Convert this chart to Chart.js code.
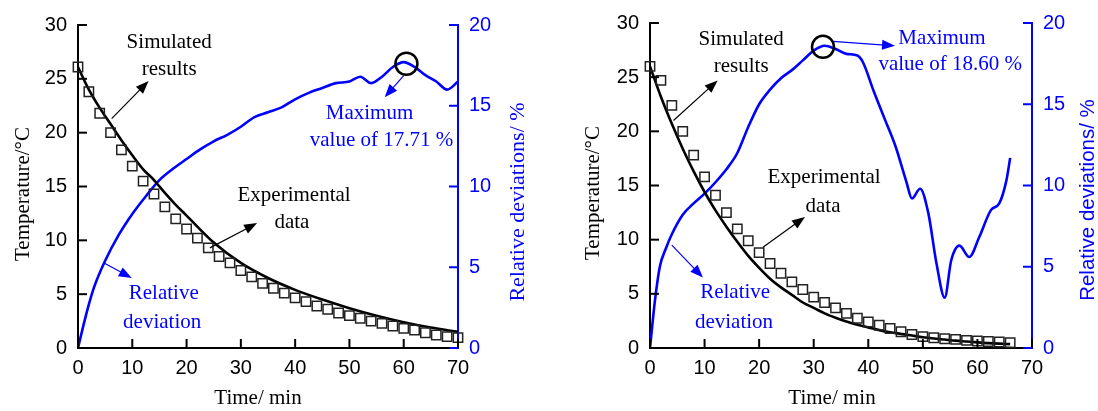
<!DOCTYPE html>
<html>
<head>
<meta charset="utf-8">
<script src="https://cdn.jsdelivr.net/npm/chart.js@4.4.1/dist/chart.umd.min.js"></script>
<style>
  html, body { margin: 0; padding: 0; background: #fff; }
  #wrap { position: relative; width: 1098px; height: 411px; }
  canvas { position: absolute; top: 0; }
</style>
</head>
<body>
<div id="wrap">
  <canvas id="chartA" width="549" height="411" style="left:0"></canvas>
  <canvas id="chartB" width="549" height="411" style="left:549px"></canvas>
</div>
<script>
// ---- left panel data ----
const expTimeA = [0,2,4,6,8,10,12,14,16,18,20,22,24,26,28,30,32,34,36,38,40,42,44,46,48,50,52,54,56,58,60,62,64,66,68,70];
const expTempA = [26.1,23.8,21.8,20.0,18.4,16.9,15.5,14.3,13.1,12.0,11.05,10.2,9.3,8.5,7.9,7.2,6.6,6.0,5.55,5.1,4.65,4.3,3.9,3.6,3.25,3.0,2.76,2.5,2.29,2.04,1.83,1.67,1.42,1.21,1.05,0.96];
const simTimeA = [0,2,4,6,8,10,12,14,16,18,20,25,30,35,40,45,50,55,60,65,70];
const simTempA = [26.1,24.0,22.3,20.8,19.3,17.9,16.6,15.6,14.4,13.3,12.3,9.8,7.9,6.5,5.4,4.5,3.7,3.0,2.4,1.9,1.5];
const devTimeA = [0,1,2,3,5,7.5,10,12.5,15,17.5,20,22.5,25,27.5,30,32.5,35,37.5,40,42.5,45,47.5,50,52,54,56,58,60,62,64,66,68,70];
const devValA = [0,1.4,2.7,3.8,5.4,7.0,8.3,9.4,10.4,11.1,11.7,12.3,12.8,13.2,13.7,14.3,14.6,14.9,15.4,15.8,16.1,16.4,16.5,16.8,16.4,16.8,17.4,17.7,17.4,16.9,16.5,16.0,16.5];

// ---- right panel data ----
const expTimeB = [0,2,4,6,8,10,12,14,16,18,20,22,24,26,28,30,32,34,36,38,40,42,44,46,48,50,52,54,56,58,60,62,64,66];
const expTempB = [26.0,24.7,22.4,20.0,17.8,15.8,14.1,12.5,11.0,9.9,8.8,7.8,6.9,6.1,5.4,4.7,4.2,3.7,3.2,2.75,2.4,2.1,1.8,1.5,1.25,1.05,0.95,0.85,0.8,0.7,0.65,0.6,0.55,0.5];
const simTimeB = [0,2,4,6,8,10,12,14,16,18,20,22,24,26,28,30,32,34,36,38,40,42,44,46,48,50,52,54,56,58,60,62,64,66];
const simTempB = [26,23.2,20.7,18.4,16.3,14.4,12.7,11.2,9.8,8.5,7.4,6.4,5.6,4.9,4.2,3.7,3.2,2.8,2.45,2.15,1.9,1.65,1.45,1.3,1.15,1.0,0.88,0.78,0.68,0.6,0.52,0.45,0.4,0.36];
const devTimeB = [0,0.9,1.8,3,4,6,8,10,12,14,16,18,20,22,24,26,28,30,32,34,36,38,39,41,43,45,47,48,49.5,51,52.5,54,55.2,56.7,58.5,60.3,62.5,64,65.3,66];
const devValB = [0,2.9,5.0,6.2,7.0,8.2,8.9,9.5,10.2,11.0,12.0,13.6,15.0,15.9,16.6,17.1,17.7,18.3,18.6,18.4,18.1,18.0,17.6,15.8,14.1,12.4,10.2,9.2,9.8,8.3,5.2,3.1,5.4,6.3,5.6,6.8,8.5,8.9,10.3,11.7];

const timeTicks = [0, 10, 20, 30, 40, 50, 60, 70];
const tempTicks = [0, 5, 10, 15, 20, 25, 30];
const devTicks = [0, 5, 10, 15, 20];

const BLUE = '#0000ff';
const SANS = '"Liberation Sans", Arial, sans-serif';
const SERIF = '"Liberation Serif", "Times New Roman", serif';

function pts(xs, ys) {
  return xs.map((x, i) => ({ x: x, y: ys[i] }));
}

// ticks pointing into the plot
const innerTicks = {
  id: 'innerTicks',
  afterDraw(chart) {
    const ctx = chart.ctx, a = chart.chartArea, len = 9;
    ctx.save();
    ctx.lineWidth = 2;
    const sx = chart.scales.x, sy = chart.scales.y, sy2 = chart.scales.y2;
    ctx.strokeStyle = '#000';
    sx.ticks.forEach(t => {
      const p = sx.getPixelForValue(t.value);
      ctx.beginPath(); ctx.moveTo(p, a.bottom); ctx.lineTo(p, a.bottom - len); ctx.stroke();
    });
    sy.ticks.forEach(t => {
      const p = sy.getPixelForValue(t.value);
      ctx.beginPath(); ctx.moveTo(a.left, p); ctx.lineTo(a.left + len, p); ctx.stroke();
    });
    ctx.strokeStyle = BLUE;
    sy2.ticks.forEach(t => {
      const p = sy2.getPixelForValue(t.value);
      ctx.beginPath(); ctx.moveTo(a.right, p); ctx.lineTo(a.right - len, p); ctx.stroke();
    });
    ctx.restore();
  }
};

// text labels, arrows, circle, axis titles
const notes = {
  id: 'notes',
  afterDraw(chart, args, opts) {
    const ctx = chart.ctx, sx = chart.scales.x, sy = chart.scales.y;
    const px = t => sx.getPixelForValue(t), py = v => sy.getPixelForValue(v);
    ctx.save();
    ctx.textAlign = 'center';
    ctx.textBaseline = 'middle';
    (opts.texts || []).forEach(n => {
      ctx.fillStyle = n.color;
      ctx.font = '21px ' + SERIF;
      ctx.fillText(n.text, px(n.t), py(n.v));
    });
    (opts.arrows || []).forEach(ar => {
      const x1 = px(ar.from[0]), y1 = py(ar.from[1]);
      const x2 = px(ar.to[0]), y2 = py(ar.to[1]);
      const ang = Math.atan2(y2 - y1, x2 - x1), hl = 13, hw = 5;
      ctx.strokeStyle = ar.color; ctx.fillStyle = ar.color; ctx.lineWidth = 1.2;
      ctx.beginPath();
      ctx.moveTo(x1, y1);
      ctx.lineTo(x2 - Math.cos(ang) * hl * 0.8, y2 - Math.sin(ang) * hl * 0.8);
      ctx.stroke();
      ctx.beginPath();
      ctx.moveTo(x2, y2);
      ctx.lineTo(x2 - Math.cos(ang) * hl + Math.sin(ang) * hw, y2 - Math.sin(ang) * hl - Math.cos(ang) * hw);
      ctx.lineTo(x2 - Math.cos(ang) * hl - Math.sin(ang) * hw, y2 - Math.sin(ang) * hl + Math.cos(ang) * hw);
      ctx.closePath();
      ctx.fill();
    });
    if (opts.circle) {
      ctx.strokeStyle = '#000'; ctx.lineWidth = 2.5;
      ctx.beginPath();
      ctx.arc(px(opts.circle.t), py(opts.circle.v), 11, 0, Math.PI * 2);
      ctx.stroke();
    }
    (opts.titles || []).forEach(tt => {
      ctx.save();
      ctx.translate(tt.x, tt.y);
      ctx.rotate(tt.rot || 0);
      ctx.fillStyle = tt.color;
      ctx.font = tt.font;
      ctx.fillText(tt.text, 0, 0);
      ctx.restore();
    });
    ctx.restore();
  }
};

function makeChart(id, d) {
  const ctx = document.getElementById(id).getContext('2d');
  return new Chart(ctx, {
    type: 'scatter',
    data: {
      datasets: [
        {
          label: 'Experimental data',
          data: pts(d.expT, d.expV),
          yAxisID: 'y',
          showLine: false,
          pointStyle: 'rect',
          pointRadius: 6.6,
          pointBorderWidth: 1.5,
          pointBorderColor: '#222',
          pointBackgroundColor: 'rgba(0,0,0,0)',
          clip: false
        },
        {
          label: 'Simulated results',
          data: pts(d.simT, d.simV),
          yAxisID: 'y',
          showLine: true,
          borderColor: '#000',
          borderWidth: 2.6,
          pointRadius: 0,
          cubicInterpolationMode: 'monotone'
        },
        {
          label: 'Relative deviation',
          data: pts(d.devT, d.devV),
          yAxisID: 'y2',
          showLine: true,
          borderColor: BLUE,
          borderWidth: 2.6,
          pointRadius: 0,
          cubicInterpolationMode: 'monotone'
        }
      ]
    },
    options: {
      responsive: false,
      animation: false,
      devicePixelRatio: 1,
      layout: { padding: { top: d.top, left: 0, right: 0, bottom: 0 } },
      plugins: {
        legend: { display: false },
        tooltip: { enabled: false },
        notes: d.notes
      },
      scales: {
        x: {
          type: 'linear', position: 'bottom', min: 0, max: 70,
          afterBuildTicks: s => { s.ticks = timeTicks.map(v => ({ value: v })); },
          afterFit: s => { s.height = 63; },
          grid: { display: false, drawTicks: false },
          border: { display: true, color: '#000', width: 2 },
          ticks: { color: '#000', padding: 8, font: { family: SANS, size: 20 } }
        },
        y: {
          type: 'linear', position: 'left', min: 0, max: 30,
          afterBuildTicks: s => { s.ticks = tempTicks.map(v => ({ value: v })); },
          afterFit: s => { s.width = d.lw; },
          grid: { display: false, drawTicks: false },
          border: { display: true, color: '#000', width: 2 },
          ticks: { color: '#000', padding: 11, font: { family: SANS, size: 20 } }
        },
        y2: {
          type: 'linear', position: 'right', min: 0, max: 20,
          afterBuildTicks: s => { s.ticks = devTicks.map(v => ({ value: v })); },
          afterFit: s => { s.width = d.rw; },
          grid: { display: false, drawTicks: false },
          border: { display: true, color: BLUE, width: 2 },
          ticks: { color: BLUE, padding: 11, font: { family: SANS, size: 20 } }
        }
      }
    },
    plugins: [innerTicks, notes]
  });
}

makeChart('chartA', {
  expT: expTimeA, expV: expTempA, simT: simTimeA, simV: simTempA, devT: devTimeA, devV: devValA,
  top: 25, lw: 78, rw: 91,
  notes: {
    texts: [
      { t: 16.8, v: 28.4, text: 'Simulated', color: '#000' },
      { t: 16.8, v: 25.9, text: 'results', color: '#000' },
      { t: 39.8, v: 14.2, text: 'Experimental', color: '#000' },
      { t: 39.4, v: 11.7, text: 'data', color: '#000' },
      { t: 15.8, v: 5.1, text: 'Relative', color: BLUE },
      { t: 15.5, v: 2.4, text: 'deviation', color: BLUE },
      { t: 53.7, v: 21.8, text: 'Maximum', color: BLUE },
      { t: 55.9, v: 19.3, text: 'value of 17.71 %', color: BLUE }
    ],
    arrows: [
      { from: [6.2, 21.3], to: [13.0, 24.8], color: '#000' },
      { from: [24.3, 9.3], to: [33.0, 11.6], color: '#000' },
      { from: [4.8, 7.9], to: [9.9, 6.5], color: BLUE },
      { from: [60.0, 25.3], to: [56.5, 23.3], color: BLUE }
    ],
    circle: { t: 60.5, v: 26.4 },
    titles: [
      { text: 'Temperature/°C', x: 23, y: 194, rot: -Math.PI / 2, color: '#000', font: '21px ' + SERIF },
      { text: 'Relative deviations/ %', x: 518, y: 202, rot: -Math.PI / 2, color: BLUE, font: '22px ' + SERIF },
      { text: 'Time/ min', x: 258, y: 398, rot: 0, color: '#000', font: '21px ' + SERIF }
    ]
  }
});

makeChart('chartB', {
  expT: expTimeB, expV: expTempB, simT: simTimeB, simV: simTempB, devT: devTimeB, devV: devValB,
  top: 22, lw: 101, rw: 66,
  notes: {
    texts: [
      { t: 16.7, v: 28.5, text: 'Simulated', color: '#000' },
      { t: 16.7, v: 26.0, text: 'results', color: '#000' },
      { t: 31.9, v: 15.7, text: 'Experimental', color: '#000' },
      { t: 31.7, v: 13.1, text: 'data', color: '#000' },
      { t: 15.6, v: 5.1, text: 'Relative', color: BLUE },
      { t: 15.4, v: 2.4, text: 'deviation', color: BLUE },
      { t: 53.5, v: 28.6, text: 'Maximum', color: BLUE },
      { t: 55.0, v: 26.2, text: 'value of 18.60 %', color: BLUE }
    ],
    arrows: [
      { from: [4.3, 21.0], to: [12.4, 24.7], color: '#000' },
      { from: [20.7, 9.3], to: [28.4, 12.1], color: '#000' },
      { from: [4.0, 9.5], to: [9.7, 6.5], color: BLUE },
      { from: [33.5, 28.3], to: [44.9, 27.9], color: BLUE }
    ],
    circle: { t: 31.7, v: 27.8 },
    titles: [
      { text: 'Temperature/°C', x: 44, y: 193, rot: -Math.PI / 2, color: '#000', font: '21px ' + SERIF },
      { text: 'Relative deviations/ %', x: 539, y: 200, rot: -Math.PI / 2, color: BLUE, font: '20.5px ' + SANS },
      { text: 'Time/ min', x: 283, y: 398, rot: 0, color: '#000', font: '21px ' + SERIF }
    ]
  }
});
</script>
</body>
</html>
